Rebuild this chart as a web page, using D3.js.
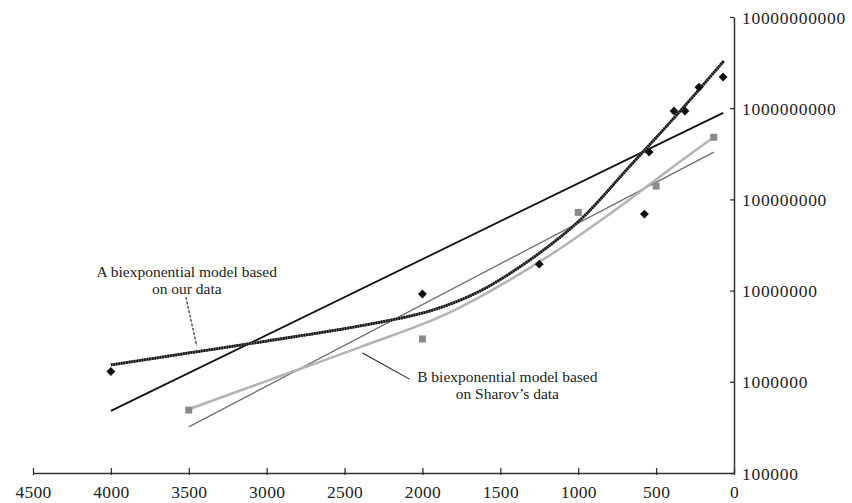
<!DOCTYPE html>
<html>
<head>
<meta charset="utf-8">
<script src="https://cdn.jsdelivr.net/npm/d3@7"></script>
<style>
  body { margin: 0; background: #fff; }
  svg text { font-family: "Liberation Serif", "Times New Roman", serif; fill: #222; }
</style>
</head>
<body>
<svg id="chart" width="852" height="503"></svg>
<script>
// tick labels
const xTicks = [4500, 4000, 3500, 3000, 2500, 2000, 1500, 1000, 500, 0];
const yTicks = [1e5, 1e6, 1e7, 1e8, 1e9, 1e10];

// our data (black diamonds)
const ourYears = [4000, 2000, 1250, 575, 545, 385, 315, 225, 70];
const ourPop   = [1.3e6, 9.2e6, 1.95e7, 6.9e7, 3.3e8, 9.3e8, 9.3e8, 1.7e9, 2.2e9];

// Sharov's data (grey squares)
const sharovYears = [3500, 2000, 1000, 500, 130];
const sharovPop   = [4.9e5, 2.95e6, 7.2e7, 1.4e8, 4.8e8];

// simple exponential fits (straight lines on log scale)
const fitOurYears = [4000, 70];
const fitOurPop   = [4.8e5, 8.9e8];
const fitSharovYears = [3500, 130];
const fitSharovPop   = [3.2e5, 3.3e8];

// biexponential model A (our data)
const biAYears = [4000, 3500, 3000, 2400, 1950, 1640, 1310, 990, 670, 350, 65];
const biAPop   = [1.53e6, 2.07e6, 2.8e6, 4.1e6, 6.0e6, 9.7e6, 2.17e7, 5.9e7, 2.3e8, 9.1e8, 3.3e9];

// biexponential model B (Sharov's data)
const biBYears = [3500, 2980, 2400, 1830, 1250, 760, 350, 130];
const biBPop   = [5.0e5, 1.05e6, 2.4e6, 5.7e6, 2.06e7, 7.7e7, 2.57e8, 4.8e8];

const svg = d3.select("#chart");

const x = d3.scaleLinear().domain([4500, 0]).range([33, 734]);
const y = d3.scaleLog().domain([1e5, 1e10]).range([473, 17]);

const zip = (xs, ys) => xs.map((d, i) => [d, ys[i]]);
const line = d3.line().x(d => x(d[0])).y(d => y(d[1]));
const smooth = d3.line().x(d => x(d[0])).y(d => y(d[1])).curve(d3.curveCatmullRom.alpha(0.5));

// x axis
const xAxis = svg.append("g")
    .attr("transform", "translate(0,473)")
    .call(d3.axisBottom(x).tickValues(xTicks).tickSizeOuter(0).tickSizeInner(2).tickFormat(d3.format("d")));
xAxis.select(".domain").attr("stroke", "#333").attr("stroke-width", 1.5);
xAxis.selectAll(".tick line").attr("y1", -5).attr("y2", 2).attr("stroke", "#333").attr("stroke-width", 1.3);
xAxis.selectAll(".tick text").attr("y", 25).attr("dy", 0)
    .style("font-size", "17.5px").style("letter-spacing", "0.3px").attr("fill", "#222");

// y axis (right)
const yAxis = svg.append("g")
    .attr("transform", "translate(734,0)")
    .call(d3.axisRight(y).tickValues(yTicks).tickSizeOuter(0).tickSizeInner(-4).tickFormat(d3.format("d")));
yAxis.select(".domain").attr("stroke", "#333").attr("stroke-width", 1.5);
yAxis.selectAll(".tick line").attr("stroke", "#333").attr("stroke-width", 1.3);
yAxis.selectAll(".tick text").attr("x", 8).attr("dy", "0.35em")
    .style("font-size", "17.5px").style("letter-spacing", "0.7px").attr("fill", "#222");

// fitted lines
svg.append("path").datum(zip(fitOurYears, fitOurPop)).attr("d", line)
    .attr("fill", "none").attr("stroke", "#111").attr("stroke-width", 1.8);
svg.append("path").datum(zip(fitSharovYears, fitSharovPop)).attr("d", line)
    .attr("fill", "none").attr("stroke", "#6e6e6e").attr("stroke-width", 1.3);

// biexponential B (light grey)
svg.append("path").datum(zip(biBYears, biBPop)).attr("d", smooth)
    .attr("fill", "none").attr("stroke", "#b4b4b4").attr("stroke-width", 2.6);

// biexponential A (textured black)
svg.append("path").datum(zip(biAYears, biAPop)).attr("d", smooth)
    .attr("fill", "none").attr("stroke", "#666").attr("stroke-width", 2.8);
svg.append("path").datum(zip(biAYears, biAPop)).attr("d", smooth)
    .attr("fill", "none").attr("stroke", "#111").attr("stroke-width", 2.8)
    .attr("stroke-dasharray", "1.6 1");

// points
svg.append("g").selectAll("path")
    .data(zip(sharovYears, sharovPop))
    .join("path")
    .attr("d", d3.symbol(d3.symbolSquare, 49))
    .attr("transform", d => `translate(${x(d[0])},${y(d[1])})`)
    .attr("fill", "#8a8a8a");

svg.append("g").selectAll("path")
    .data(zip(ourYears, ourPop))
    .join("path")
    .attr("d", d3.symbol(d3.symbolSquare, 40))
    .attr("transform", d => `translate(${x(d[0])},${y(d[1])}) rotate(45)`)
    .attr("fill", "#111");

// annotations
const notes = [
  { lines: ["A biexponential model based", "on our data"], year: 3513, val: 1.41e7,
    from: [3519, 8.5e6], to: [3449, 2.47e6], dash: "3 1.5" },
  { lines: ["B biexponential model based", "on Sharov\u2019s data"], year: 1455, val: 9.96e5,
    from: [2385, 2.07e6], to: [2083, 1.07e6], dash: null }
];
notes.forEach(n => {
  const t = svg.append("text")
      .attr("x", x(n.year)).attr("y", y(n.val))
      .attr("text-anchor", "middle")
      .style("font-size", "15.5px");
  n.lines.forEach((s, i) => t.append("tspan").attr("x", x(n.year)).attr("dy", i ? 17 : 0).text(s));
  svg.append("line")
      .attr("x1", x(n.from[0])).attr("y1", y(n.from[1]))
      .attr("x2", x(n.to[0])).attr("y2", y(n.to[1]))
      .attr("stroke", "#222").attr("stroke-width", 1.1)
      .attr("stroke-dasharray", n.dash);
});
</script>
</body>
</html>
